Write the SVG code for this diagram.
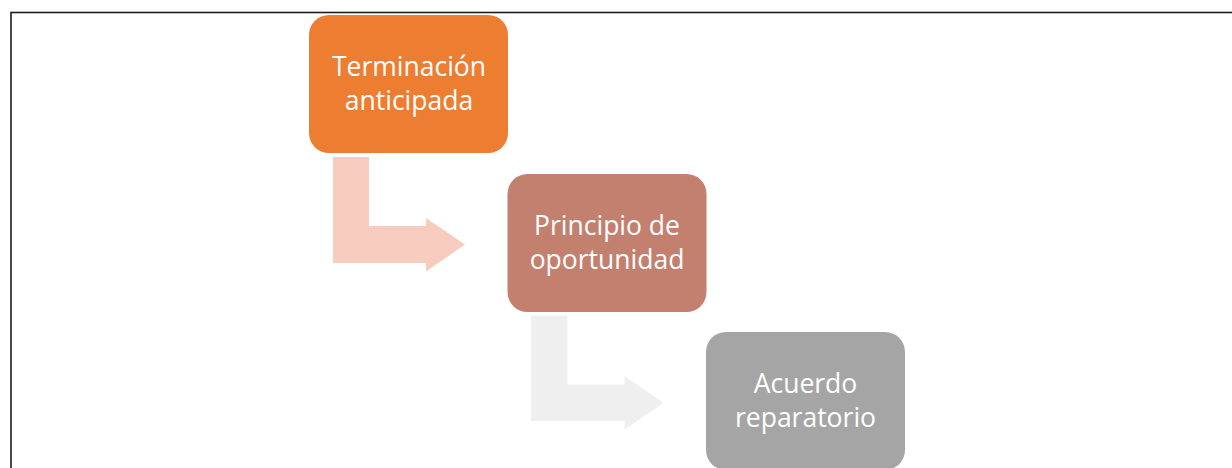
<svg xmlns="http://www.w3.org/2000/svg" width="1232" height="468" viewBox="0 0 1232 468">
<style>
.lbl{font-family:"Open Sans","Noto Sans",sans-serif;font-size:26.5px;fill:#ffffff;text-anchor:middle}
</style>
<rect x="0" y="0" width="1232" height="468" fill="#ffffff"/>
<rect x="11" y="12.5" width="1240" height="470" fill="none" stroke="#1e1e1e" stroke-width="1.6"/>
<g id="connectors">
<path id="arrow1" d="M333,157 L369,157 L369,226 L426,226 L426,218 L465,244.5 L426,271.5 L426,263 L333,263 Z" fill="#F7CBBD"/>
<path id="arrow2" d="M531,315.5 L567.5,315.5 L567.5,384.5 L624.5,384.5 L624.5,376 L663.5,403 L624.5,429.5 L624.5,421 L531,421 Z" fill="#EFEFEF"/>
</g>
<g id="node1">
<rect x="309" y="15" width="199" height="138" rx="20" fill="#ED7D31"/>
<text class="lbl" x="409" y="76">Terminación</text>
<text class="lbl" x="409" y="110">anticipada</text>
</g>
<g id="node2">
<rect x="507.5" y="174" width="199" height="138" rx="20" fill="#C4806F"/>
<text class="lbl" x="607" y="235">Principio de</text>
<text class="lbl" x="607" y="269">oportunidad</text>
</g>
<g id="node3">
<rect x="706" y="332" width="199" height="138" rx="20" fill="#A5A5A5"/>
<text class="lbl" x="805.5" y="393">Acuerdo</text>
<text class="lbl" x="805.5" y="427">reparatorio</text>
</g>
</svg>
